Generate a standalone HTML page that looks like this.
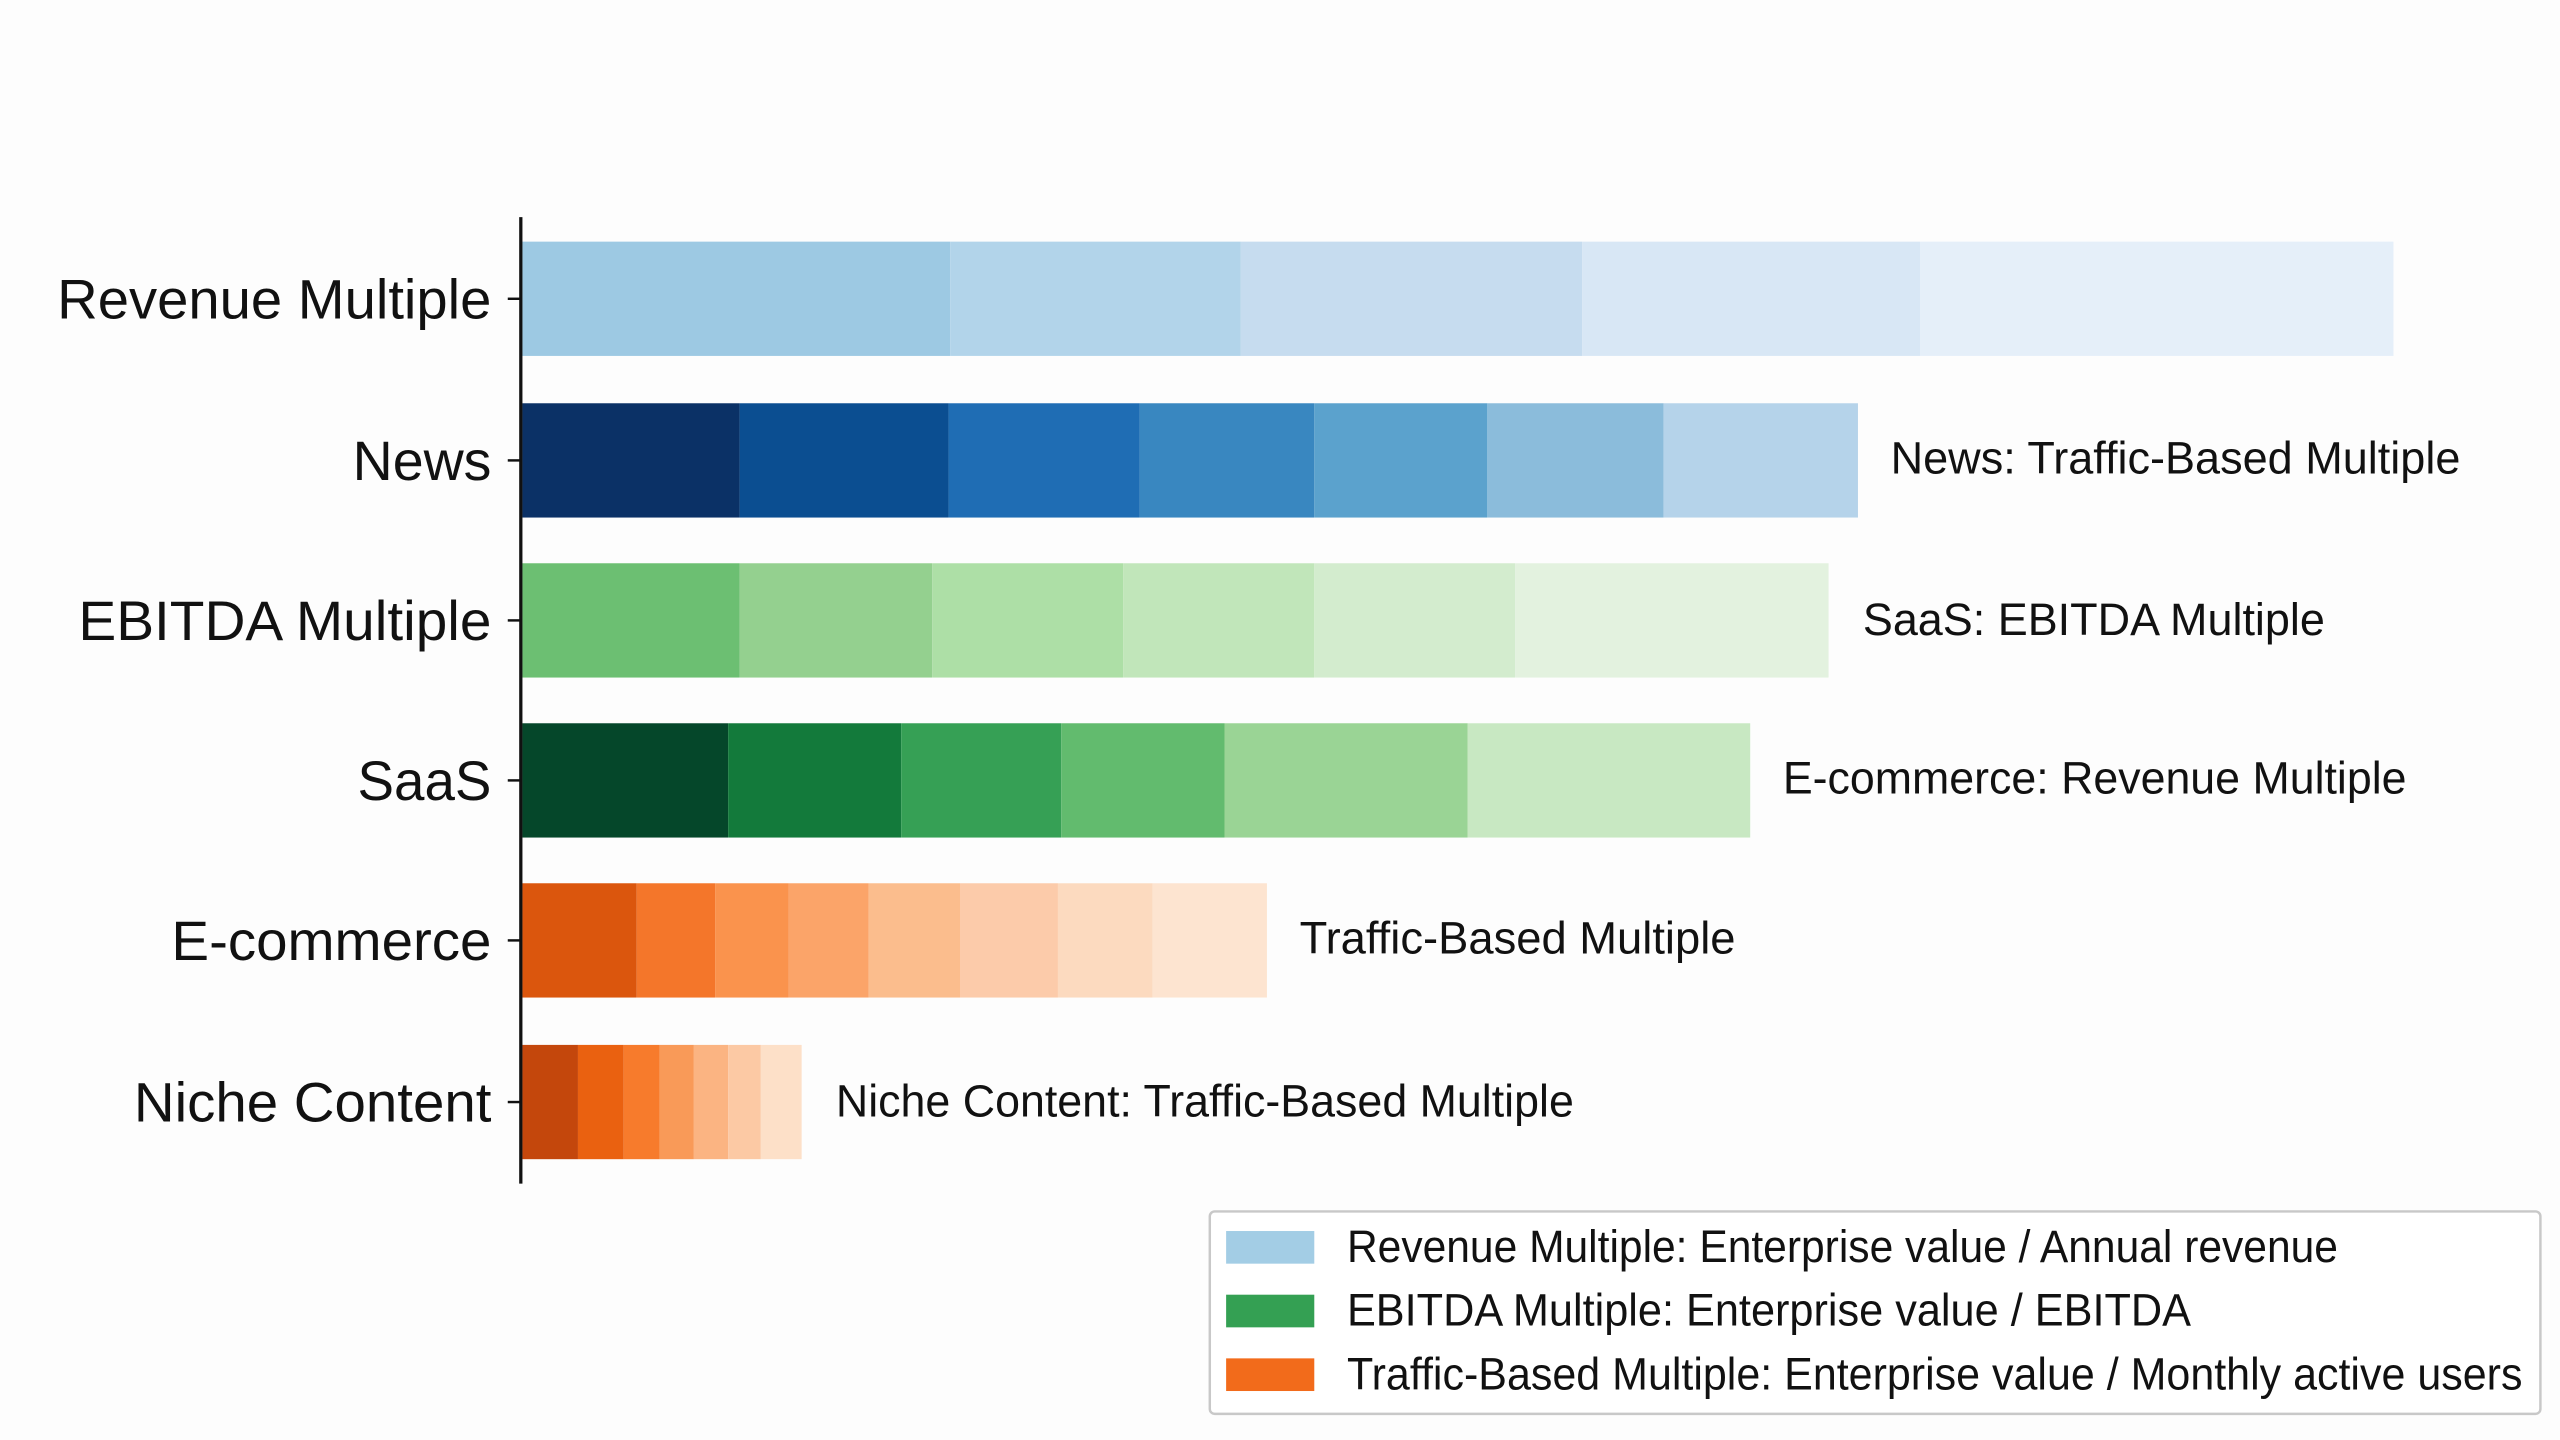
<!DOCTYPE html>
<html><head><meta charset="utf-8"><style>html,body{margin:0;padding:0;background:#fdfdfd}svg{display:block}text{font-family:"Liberation Sans",Arial,sans-serif;fill:#111}</style></head>
<body>
<svg width="2560" height="1440" viewBox="0 0 1568 882" preserveAspectRatio="none" xmlns="http://www.w3.org/2000/svg">
<rect width="1568" height="882" fill="#fdfdfd"/>
<!-- Row1 -->
<g>
<rect x="320" y="148" width="262" height="70" fill="#9dc9e3"/>
<rect x="582" y="148" width="178" height="70" fill="#b2d4ea"/>
<rect x="760" y="148" width="209" height="70" fill="#c6dcef"/>
<rect x="969" y="148" width="207" height="70" fill="#d8e7f5"/>
<rect x="1176" y="148" width="290" height="70" fill="#e5eff9"/>
</g>
<g>
<rect x="320" y="247" width="133" height="70" fill="#0b3166"/>
<rect x="453" y="247" width="128" height="70" fill="#0b4e91"/>
<rect x="581" y="247" width="117" height="70" fill="#1f6db4"/>
<rect x="698" y="247" width="107" height="70" fill="#3987c0"/>
<rect x="805" y="247" width="106" height="70" fill="#5ba2cd"/>
<rect x="911" y="247" width="108" height="70" fill="#8bbcdb"/>
<rect x="1019" y="247" width="119" height="70" fill="#b5d3ea"/>
</g>
<g>
<rect x="320" y="345" width="133" height="70" fill="#6cbf72"/>
<rect x="453" y="345" width="118" height="70" fill="#94d08f"/>
<rect x="571" y="345" width="117" height="70" fill="#addfa6"/>
<rect x="688" y="345" width="117" height="70" fill="#c1e6ba"/>
<rect x="805" y="345" width="123" height="70" fill="#d3ecce"/>
<rect x="928" y="345" width="192" height="70" fill="#e3f2df"/>
</g>
<g>
<rect x="320" y="443" width="126" height="70" fill="#05472a"/>
<rect x="446" y="443" width="106" height="70" fill="#137a3b"/>
<rect x="552" y="443" width="98" height="70" fill="#36a055"/>
<rect x="650" y="443" width="100" height="70" fill="#62bb6e"/>
<rect x="750" y="443" width="149" height="70" fill="#9ad495"/>
<rect x="899" y="443" width="173" height="70" fill="#c8e8c2"/>
</g>
<g>
<rect x="320" y="541" width="70" height="70" fill="#db560d"/>
<rect x="390" y="541" width="48" height="70" fill="#f4762a"/>
<rect x="438" y="541" width="45" height="70" fill="#fa934d"/>
<rect x="483" y="541" width="49" height="70" fill="#fba469"/>
<rect x="532" y="541" width="56" height="70" fill="#fbbd8d"/>
<rect x="588" y="541" width="60" height="70" fill="#fccbaa"/>
<rect x="648" y="541" width="58" height="70" fill="#fcdabf"/>
<rect x="706" y="541" width="70" height="70" fill="#fde4d0"/>
</g>
<g>
<rect x="320" y="640" width="34" height="70" fill="#c4470c"/>
<rect x="354" y="640" width="28" height="70" fill="#ea6110"/>
<rect x="382" y="640" width="22" height="70" fill="#f77b2c"/>
<rect x="404" y="640" width="21" height="70" fill="#f99a58"/>
<rect x="425" y="640" width="21" height="70" fill="#fbb482"/>
<rect x="446" y="640" width="20" height="70" fill="#fcc9a4"/>
<rect x="466" y="640" width="25" height="70" fill="#fde0c8"/>
</g>
<!-- axis -->
<line x1="319" y1="133" x2="319" y2="725" stroke="#111" stroke-width="2"/>
<g stroke="#111" stroke-width="1.5">
<line x1="311" y1="183" x2="319" y2="183"/><line x1="311" y1="282" x2="319" y2="282"/>
<line x1="311" y1="380" x2="319" y2="380"/><line x1="311" y1="478" x2="319" y2="478"/>
<line x1="311" y1="576" x2="319" y2="576"/><line x1="311" y1="675" x2="319" y2="675"/>
</g>
<g font-size="34" text-anchor="end">
<text x="301" y="195" textLength="266" lengthAdjust="spacingAndGlyphs">Revenue Multiple</text>
<text x="301" y="294" textLength="85" lengthAdjust="spacingAndGlyphs">News</text>
<text x="301" y="392" textLength="253" lengthAdjust="spacingAndGlyphs">EBITDA Multiple</text>
<text x="301" y="490" textLength="82" lengthAdjust="spacingAndGlyphs">SaaS</text>
<text x="301" y="588" textLength="196" lengthAdjust="spacingAndGlyphs">E-commerce</text>
<text x="301" y="687" textLength="219" lengthAdjust="spacingAndGlyphs">Niche Content</text>
</g>
<g font-size="28">
<text x="1158" y="290" textLength="349" lengthAdjust="spacingAndGlyphs">News: Traffic-Based Multiple</text>
<text x="1141" y="389" textLength="283" lengthAdjust="spacingAndGlyphs">SaaS: EBITDA Multiple</text>
<text x="1092" y="486" textLength="382" lengthAdjust="spacingAndGlyphs">E-commerce: Revenue Multiple</text>
<text x="796" y="584" textLength="267" lengthAdjust="spacingAndGlyphs">Traffic-Based Multiple</text>
<text x="512" y="684" textLength="452" lengthAdjust="spacingAndGlyphs">Niche Content: Traffic-Based Multiple</text>
</g>
<!-- legend -->
<rect x="741" y="742" width="815" height="124" rx="3" fill="#fff" stroke="#c8c8c8" stroke-width="1.5"/>
<rect x="751" y="754" width="54" height="20" fill="#a3cde5"/>
<rect x="751" y="793" width="54" height="20" fill="#34a053"/>
<rect x="751" y="832" width="54" height="20" fill="#f26b1b"/>
<g font-size="28">
<text x="825" y="773" textLength="607" lengthAdjust="spacingAndGlyphs">Revenue Multiple: Enterprise value / Annual revenue</text>
<text x="825" y="812" textLength="517" lengthAdjust="spacingAndGlyphs">EBITDA Multiple: Enterprise value / EBITDA</text>
<text x="825" y="851" textLength="720" lengthAdjust="spacingAndGlyphs">Traffic-Based Multiple: Enterprise value / Monthly active users</text>
</g>
</svg>
</body></html>
